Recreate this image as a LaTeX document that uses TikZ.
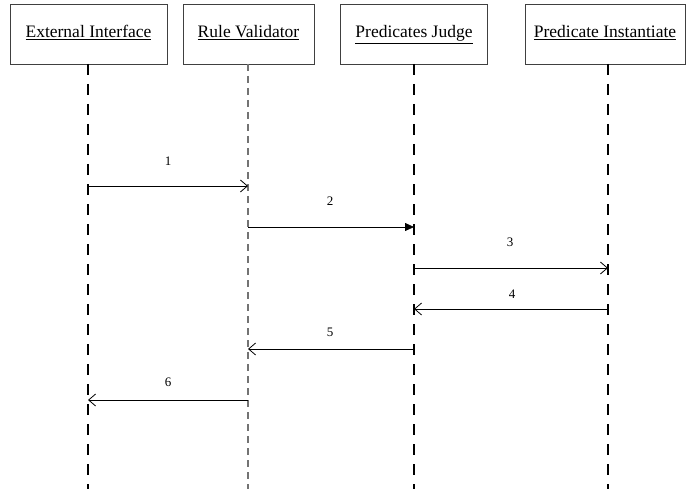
\documentclass[tikz,border=0pt]{standalone}
\usepackage{fontspec}
\setmainfont{Liberation Serif}
\usetikzlibrary{arrows.meta}
\begin{document}
\begin{tikzpicture}[x=1pt,y=-1pt,
  actor/.style={draw=black!75,line width=0.9pt,minimum height=60pt,inner sep=0pt,
    text height=12pt,text depth=4pt,font=\fontsize{17.5}{20}\selectfont},
  lifeline/.style={draw=black,line width=1.3pt,dash pattern=on 11pt off 9pt},
  msg/.style={draw=black,line width=0.8pt},
  open/.style={msg,-{Straight Barb[length=7pt,width=12pt,line width=0.8pt]}},
  solid tip/.style={msg,-{Triangle[length=9pt,width=8pt]}},
  num/.style={font=\fontsize{13}{15}\selectfont,inner sep=0pt}]
\useasboundingbox (0,0) rectangle (687,489);
% participant boxes
\node[actor,minimum width=157pt] (ei) at (88.5,34) {\underline{External Interface}};
\node[actor,minimum width=131pt] (rv) at (248.5,34) {\underline{Rule Validator}};
\node[actor,minimum width=147pt] (pj) at (414,34) {\underline{Predicates Judge}};
\node[actor,minimum width=160pt] (pi) at (605,34) {\underline{Predicate Instantiate}};
% lifeline ends
\coordinate (eiE) at (88,489);
\coordinate (rvE) at (248,489);
\coordinate (pjE) at (414,489);
\coordinate (piE) at (608,489);
\draw[lifeline] (88,64) -- (eiE);
\draw[lifeline,draw=black!55,line width=1.1pt,dash pattern=on 7pt off 5pt] (248,64) -- (rvE);
\draw[lifeline] (414,64) -- (pjE);
\draw[lifeline] (608,64) -- (piE);
% message anchors on the lifelines
\coordinate (m1a) at (88,186);  \coordinate (m1b) at (248,186);
\coordinate (m2a) at (248,227); \coordinate (m2b) at (414,227);
\coordinate (m3a) at (414,268); \coordinate (m3b) at (608,268);
\coordinate (m4a) at (608,309); \coordinate (m4b) at (414,309);
\coordinate (m5a) at (414,349); \coordinate (m5b) at (248,349);
\coordinate (m6a) at (248,400); \coordinate (m6b) at (88,400);
\draw[open] (m1a) -- (m1b);
\draw[solid tip] (m2a) -- (m2b);
\draw[open] (m3a) -- (m3b);
\draw[open] (m4a) -- (m4b);
\draw[open] (m5a) -- (m5b);
\draw[open] (m6a) -- (m6b);
% message numbers
\node[num] (n1) at (168,161) {1};
\node[num] (n2) at (330,201) {2};
\node[num] (n3) at (510,242) {3};
\node[num] (n4) at (512,294) {4};
\node[num] (n5) at (330,332) {5};
\node[num] (n6) at (168,382) {6};
\end{tikzpicture}
\end{document}
